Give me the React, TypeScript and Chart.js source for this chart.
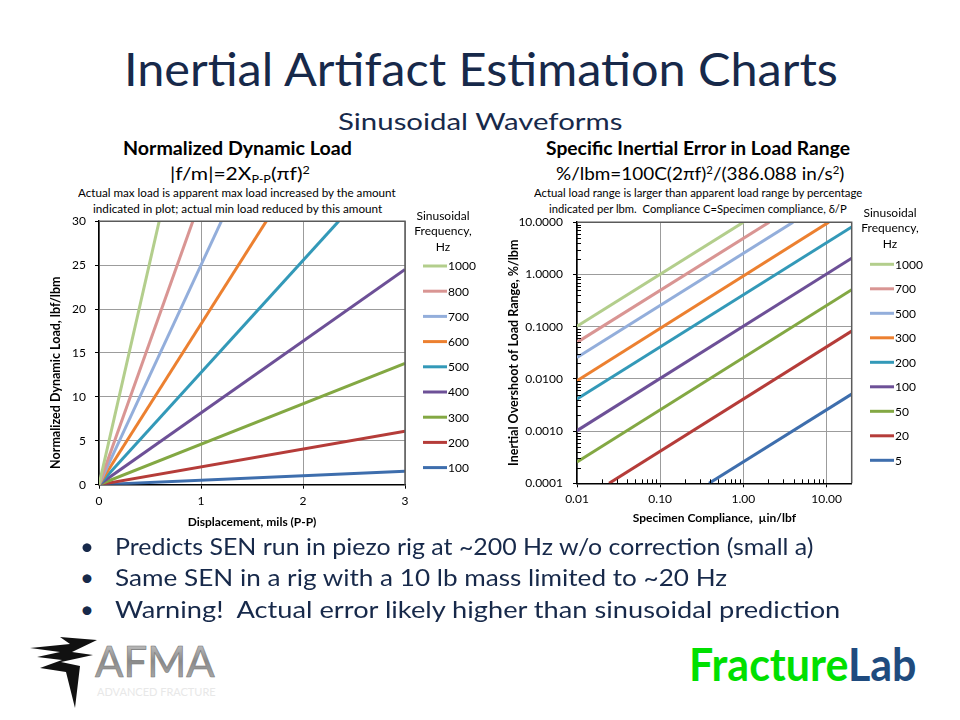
import React, { useEffect, useLayoutEffect, useRef } from 'react';
import { Chart, registerables } from 'chart.js';

Chart.register(...registerables);

// ---------- Left chart: Normalized Dynamic Load ----------
const loadFreqLabels = ['1000', '800', '700', '600', '500', '400', '300', '200', '100'];
// end point of each straight line (mils, lbf/lbm); all start at (0,0)
const loadEndDisp = [0.59, 0.92, 1.2, 1.64, 2.35, 3, 3, 3, 3];
const loadEndValue = [30, 30, 30, 30, 30, 24.5, 13.8, 6.1, 1.53];
const loadXTicks = [0, 1, 2, 3];
const loadYTicks = [0, 5, 10, 15, 20, 25, 30];

// ---------- Right chart: Specific Inertial Error ----------
const errFreqLabels = ['1000', '700', '500', '300', '200', '100', '50', '20', '5'];
const errStartC = [0.01, 0.01, 0.01, 0.01, 0.01, 0.01, 0.01, 0.0243, 0.386];
const errStartV = [0.102, 0.05, 0.0256, 0.0092, 0.0041, 0.00102, 0.000256, 0.0001, 0.0001];
const errEndC = [1.0, 2.04, 3.95, 10.6, 20, 20, 20, 20, 20];
const errEndV = [10, 10, 10, 10, 8.1, 2.04, 0.51, 0.082, 0.0051];
const errXDecades = [0.01, 0.1, 1, 10];
const errYDecades = [0.0001, 0.001, 0.01, 0.1, 1, 10];
const minorMultipliers = [2, 3, 4, 5, 6, 7, 8, 9];

const seriesColors = ['#B3CE8C', '#D99593', '#93AEDB', '#EC8030', '#3399B8', '#6D5097', '#83A843', '#B53C39', '#3E6EAD'];

const FONT = 'Lato, "Open Sans", sans-serif';
const GRID = '#9C9C9C';
const FRAME = '#5A5A5A';

const isDecade = (v: number) => Math.abs(Math.log10(v) - Math.round(Math.log10(v))) < 1e-6;

function sideLegend(cfg: any) {
  return {
    id: 'sideLegend',
    afterDraw(chart: any) {
      const ctx = chart.ctx;
      ctx.save();
      ctx.font = `12px ${FONT}`;
      ctx.fillStyle = '#000';
      ctx.textBaseline = 'middle';
      ctx.textAlign = 'center';
      cfg.title.forEach((t: string, i: number) => ctx.fillText(t, cfg.titleX, cfg.titleY + i * cfg.titleStep));
      chart.data.datasets.forEach((ds: any, i: number) => {
        const y = cfg.itemY + i * cfg.itemStep;
        ctx.strokeStyle = ds.borderColor;
        ctx.lineWidth = 3;
        ctx.beginPath();
        ctx.moveTo(cfg.lineX, y);
        ctx.lineTo(cfg.lineX + cfg.lineLen, y);
        ctx.stroke();
        ctx.textAlign = 'left';
        ctx.fillText(ds.label, cfg.lineX + cfg.lineLen + 1, y + 0.5);
      });
      ctx.restore();
    },
  };
}

const framePlugin = {
  id: 'frame',
  afterDatasetsDraw(chart: any) {
    const { ctx, chartArea: a } = chart;
    ctx.save();
    ctx.strokeStyle = FRAME;
    ctx.lineWidth = 1.5;
    ctx.beginPath();
    ctx.moveTo(a.left, a.top);
    ctx.lineTo(a.right, a.top);
    ctx.lineTo(a.right, a.bottom);
    ctx.stroke();
    ctx.restore();
  },
};

const minorTickPlugin = {
  id: 'minorTicks',
  afterDatasetsDraw(chart: any) {
    const { ctx, chartArea: a, scales } = chart;
    ctx.save();
    ctx.strokeStyle = '#000';
    ctx.lineWidth = 1;
    ctx.beginPath();
    scales.x.ticks.forEach((t: any) => {
      if (isDecade(t.value) || t.value >= scales.x.max) return;
      const px = Math.round(scales.x.getPixelForValue(t.value)) + 0.5;
      ctx.moveTo(px, a.bottom);
      ctx.lineTo(px, a.bottom - 4);
    });
    scales.y.ticks.forEach((t: any) => {
      if (isDecade(t.value)) return;
      const py = Math.round(scales.y.getPixelForValue(t.value)) + 0.5;
      ctx.moveTo(a.left, py);
      ctx.lineTo(a.left + 4, py);
    });
    ctx.stroke();
    ctx.restore();
  },
};

const tickFont = { family: FONT, size: 12 };
const titleFont = { family: FONT, size: 12, weight: 'bold' as const };
const yTitleFont = { family: FONT, size: 12.5, weight: 'bold' as const };

function LeftChart() {
  const ref = useRef<HTMLCanvasElement>(null);
  useEffect(() => {
    const datasets = loadFreqLabels.map((lab, i) => ({
      label: lab,
      data: [{ x: 0, y: 0 }, { x: loadEndDisp[i], y: loadEndValue[i] }],
      borderColor: seriesColors[i],
      backgroundColor: seriesColors[i],
      borderWidth: 3,
      pointRadius: 0,
      tension: 0,
    }));
    const chart = new Chart(ref.current!, {
      type: 'line',
      data: { datasets },
      options: {
        responsive: false,
        animation: false,
        layout: { padding: { left: 0, top: 14.5, right: 75, bottom: 0 } },
        plugins: { legend: { display: false }, tooltip: { enabled: false } },
        scales: {
          x: {
            type: 'linear',
            min: 0,
            max: 3,
            afterBuildTicks: (s: any) => { s.ticks = loadXTicks.map((v) => ({ value: v })); },
            ticks: { font: tickFont, color: '#000', padding: 5, autoSkip: false },
            grid: { color: GRID, tickColor: '#000', tickLength: 4, lineWidth: 1 },
            border: { color: '#000', width: 1.5 },
            title: { display: true, text: 'Displacement, mils (P-P)', font: titleFont, color: '#000', padding: { top: 0, bottom: 6 } },
            afterFit: (s: any) => { s.height = 50.3; },
          },
          y: {
            type: 'linear',
            min: 0,
            max: 30,
            afterBuildTicks: (s: any) => { s.ticks = loadYTicks.map((v) => ({ value: v })); },
            ticks: { font: tickFont, color: '#000', padding: 9, autoSkip: false },
            grid: { color: GRID, tickColor: '#000', tickLength: 4, lineWidth: 1 },
            border: { color: '#000', width: 1.5 },
            title: { display: true, text: 'Normalized Dynamic Load, lbf/lbm' + ' '.repeat(13), font: yTitleFont, color: '#000', padding: { top: 48, bottom: 0 } },
            afterFit: (s: any) => { s.width = 99; },
          },
        },
      },
      plugins: [
        framePlugin,
        sideLegend({
          title: ['Sinusoidal', 'Frequency,', 'Hz'],
          titleX: 443, titleY: 11, titleStep: 15.5,
          itemY: 61, itemStep: 25.2, lineX: 423, lineLen: 24,
        }),
      ],
    } as any);
    return () => chart.destroy();
  }, []);
  return <canvas ref={ref} width={480} height={330} style={{ position: 'absolute', left: 0, top: 205 }} />;
}

function RightChart() {
  const ref = useRef<HTMLCanvasElement>(null);
  useEffect(() => {
    const datasets = errFreqLabels.map((lab, i) => ({
      label: lab,
      data: [{ x: errStartC[i], y: errStartV[i] }, { x: errEndC[i], y: errEndV[i] }],
      borderColor: seriesColors[i],
      backgroundColor: seriesColors[i],
      borderWidth: 3,
      pointRadius: 0,
      tension: 0,
    }));
    const logTicks = (decades: number[], max: number) => {
      const vals: number[] = [];
      decades.forEach((d) => {
        vals.push(d);
        minorMultipliers.forEach((m) => { const v = +(m * d).toPrecision(6); if (v <= max + 1e-12) vals.push(v); });
      });
      return vals.filter((v) => v <= max + 1e-12).sort((a, b) => a - b);
    };
    const chart = new Chart(ref.current!, {
      type: 'line',
      data: { datasets },
      options: {
        responsive: false,
        animation: false,
        layout: { padding: { left: 0, top: 14.3, right: 108.3, bottom: 0 } },
        plugins: { legend: { display: false }, tooltip: { enabled: false } },
        scales: {
          x: {
            type: 'logarithmic',
            min: 0.01,
            max: 20,
            afterBuildTicks: (s: any) => { s.ticks = logTicks(errXDecades, 20).map((v) => ({ value: v })); },
            ticks: {
              font: tickFont, color: '#000', padding: 5, autoSkip: false, maxRotation: 0,
              callback: (v: any) => (isDecade(Number(v)) ? Number(v).toFixed(2) : ''),
            },
            grid: {
              color: (c: any) => (c.tick && isDecade(c.tick.value) ? GRID : 'rgba(0,0,0,0)'),
              tickColor: (c: any) => (c.tick && isDecade(c.tick.value) ? '#000' : 'rgba(0,0,0,0)'),
              tickLength: 4,
              lineWidth: 1,
            },
            border: { color: '#000', width: 1.5 },
            title: { display: true, text: 'Specimen Compliance,  \u00B5in/lbf', font: titleFont, color: '#000', padding: { top: 0, bottom: 9.5 } },
            afterFit: (s: any) => { s.height = 51.7; },
          },
          y: {
            type: 'logarithmic',
            min: 0.0001,
            max: 10,
            afterBuildTicks: (s: any) => { s.ticks = logTicks(errYDecades, 10).map((v) => ({ value: v })); },
            ticks: {
              font: tickFont, color: '#000', padding: 10, autoSkip: false,
              callback: (v: any) => (isDecade(Number(v)) ? Number(v).toFixed(4) : ''),
            },
            grid: {
              color: (c: any) => (c.tick && isDecade(c.tick.value) ? GRID : 'rgba(0,0,0,0)'),
              tickColor: (c: any) => (c.tick && isDecade(c.tick.value) ? '#000' : 'rgba(0,0,0,0)'),
              tickLength: 4,
              lineWidth: 1,
            },
            border: { color: '#000', width: 1.5 },
            title: { display: true, text: 'Inertial Overshoot of Load Range, %/lbm', font: yTitleFont, color: '#000', padding: { top: 26, bottom: 0 } },
            afterFit: (s: any) => { s.width = 97; },
          },
        },
      },
      plugins: [
        framePlugin,
        minorTickPlugin,
        sideLegend({
          title: ['Sinusoidal', 'Frequency,', 'Hz'],
          titleX: 410, titleY: 7.7, titleStep: 15.5,
          itemY: 59.3, itemStep: 24.5, lineX: 390, lineLen: 24,
        }),
      ],
    } as any);
    return () => chart.destroy();
  }, []);
  return <canvas ref={ref} width={480} height={330} style={{ position: 'absolute', left: 480, top: 205 }} />;
}

// Text placed by its left edge, baseline and drawn width (w = 0: natural width)
function FitText(props: { x: number; base: number; w: number; size: number; weight?: any; color?: string; children: any }) {
  const ref = useRef<HTMLDivElement>(null);
  useLayoutEffect(() => {
    const el = ref.current;
    if (!el || !props.w) return;
    const fit = () => {
      el.style.transform = 'none';
      const actual = el.offsetWidth;
      if (actual > 0) el.style.transform = `scaleX(${props.w / actual})`;
    };
    fit();
    (document as any).fonts?.ready?.then(fit);
  });
  return (
    <div
      ref={ref}
      style={{
        position: 'absolute',
        left: props.x,
        top: props.base - 0.887 * props.size,
        fontFamily: FONT,
        fontSize: props.size,
        fontWeight: props.weight ?? 'normal',
        color: props.color ?? '#000',
        lineHeight: 1,
        whiteSpace: 'pre',
        transformOrigin: '0 0',
      }}
    >
      {props.children}
    </div>
  );
}

const sub = { fontSize: '0.6em', verticalAlign: '-0.25em' } as const;
const sup = { fontSize: '0.6em', verticalAlign: '0.55em' } as const;

const NAVY = '#17294A';

export default function App() {
  useEffect(() => {
    document.body.style.margin = '0';
  }, []);
  return (
    <div style={{ position: 'relative', width: 960, height: 720, background: '#fff', overflow: 'hidden' }}>
      <FitText x={124} base={86.7} w={714} size={46} color={NAVY}>Inertial Artifact Estimation Charts</FitText>
      <FitText x={338} base={130} w={284} size={24} color={NAVY}>Sinusoidal Waveforms</FitText>

      <FitText x={123} base={155} w={229} size={18} weight="bold">Normalized Dynamic Load</FitText>
      <FitText x={170} base={180} w={140} size={18}>
        |f/m|=2X<span style={sub}>P-P</span>(πf)<span style={sup}>2</span>
      </FitText>
      <FitText x={78} base={197.5} w={318} size={11.5}>Actual max load is apparent max load increased by the amount</FitText>
      <FitText x={93} base={213.5} w={289} size={11.5}>indicated in plot; actual min load reduced by this amount</FitText>

      <FitText x={546} base={155} w={304} size={18} weight="bold">Specific Inertial Error in Load Range</FitText>
      <FitText x={556} base={180} w={288} size={18}>
        %/lbm=100C(2πf)<span style={sup}>2</span>/(386.088 in/s<span style={sup}>2</span>)
      </FitText>
      <FitText x={534} base={197.5} w={328} size={11.5}>Actual load range is larger than apparent load range by percentage</FitText>
      <FitText x={549} base={213.5} w={298} size={11.5}>indicated per lbm.  Compliance C=Specimen compliance, δ/P</FitText>

      <LeftChart />
      <RightChart />

      <FitText x={80} base={555} w={0} size={24} color={NAVY}>•</FitText>
      <FitText x={115} base={555} w={699} size={24} color={NAVY}>Predicts SEN run in piezo rig at ~200 Hz w/o correction (small a)</FitText>
      <FitText x={80} base={586.5} w={0} size={24} color={NAVY}>•</FitText>
      <FitText x={115} base={586.5} w={612} size={24} color={NAVY}>Same SEN in a rig with a 10 lb mass limited to ~20 Hz</FitText>
      <FitText x={80} base={618} w={0} size={24} color={NAVY}>•</FitText>
      <FitText x={115} base={618} w={725} size={24} color={NAVY}>Warning!  Actual error likely higher than sinusoidal prediction</FitText>

      {/* AFMA logo */}
      <svg width={200} height={85} style={{ position: 'absolute', left: 25, top: 630 }}>
        <defs>
          <linearGradient id="afmaG" x1="0" y1="0" x2="0" y2="1">
            <stop offset="0" stopColor="#d8d8d8" />
            <stop offset="0.5" stopColor="#8a8a8a" />
            <stop offset="1" stopColor="#b5b5b5" />
          </linearGradient>
        </defs>
        <polygon
          fill="#111"
          points="5,18 45,14 35,7 72,10 47,22 68,25 36,32 55,36 50,78 41,42 15,38 37,30 12,27 35,22"
        />
        <text x={70} y={47} fontFamily={FONT} fontSize={42} fill="url(#afmaG)" stroke="#777" strokeWidth={0.6}>AFMA</text>
        <text x={72} y={66} fontFamily={FONT} fontSize={11} fill="#e8e8e8">ADVANCED FRACTURE</text>
      </svg>

      {/* FractureLab logo */}
      <FitText x={689} base={682} w={227} size={46} weight="bold">
        <span style={{ color: '#00E000' }}>Fracture</span>
        <span style={{ color: '#1F4B7E' }}>Lab</span>
      </FitText>
    </div>
  );
}
